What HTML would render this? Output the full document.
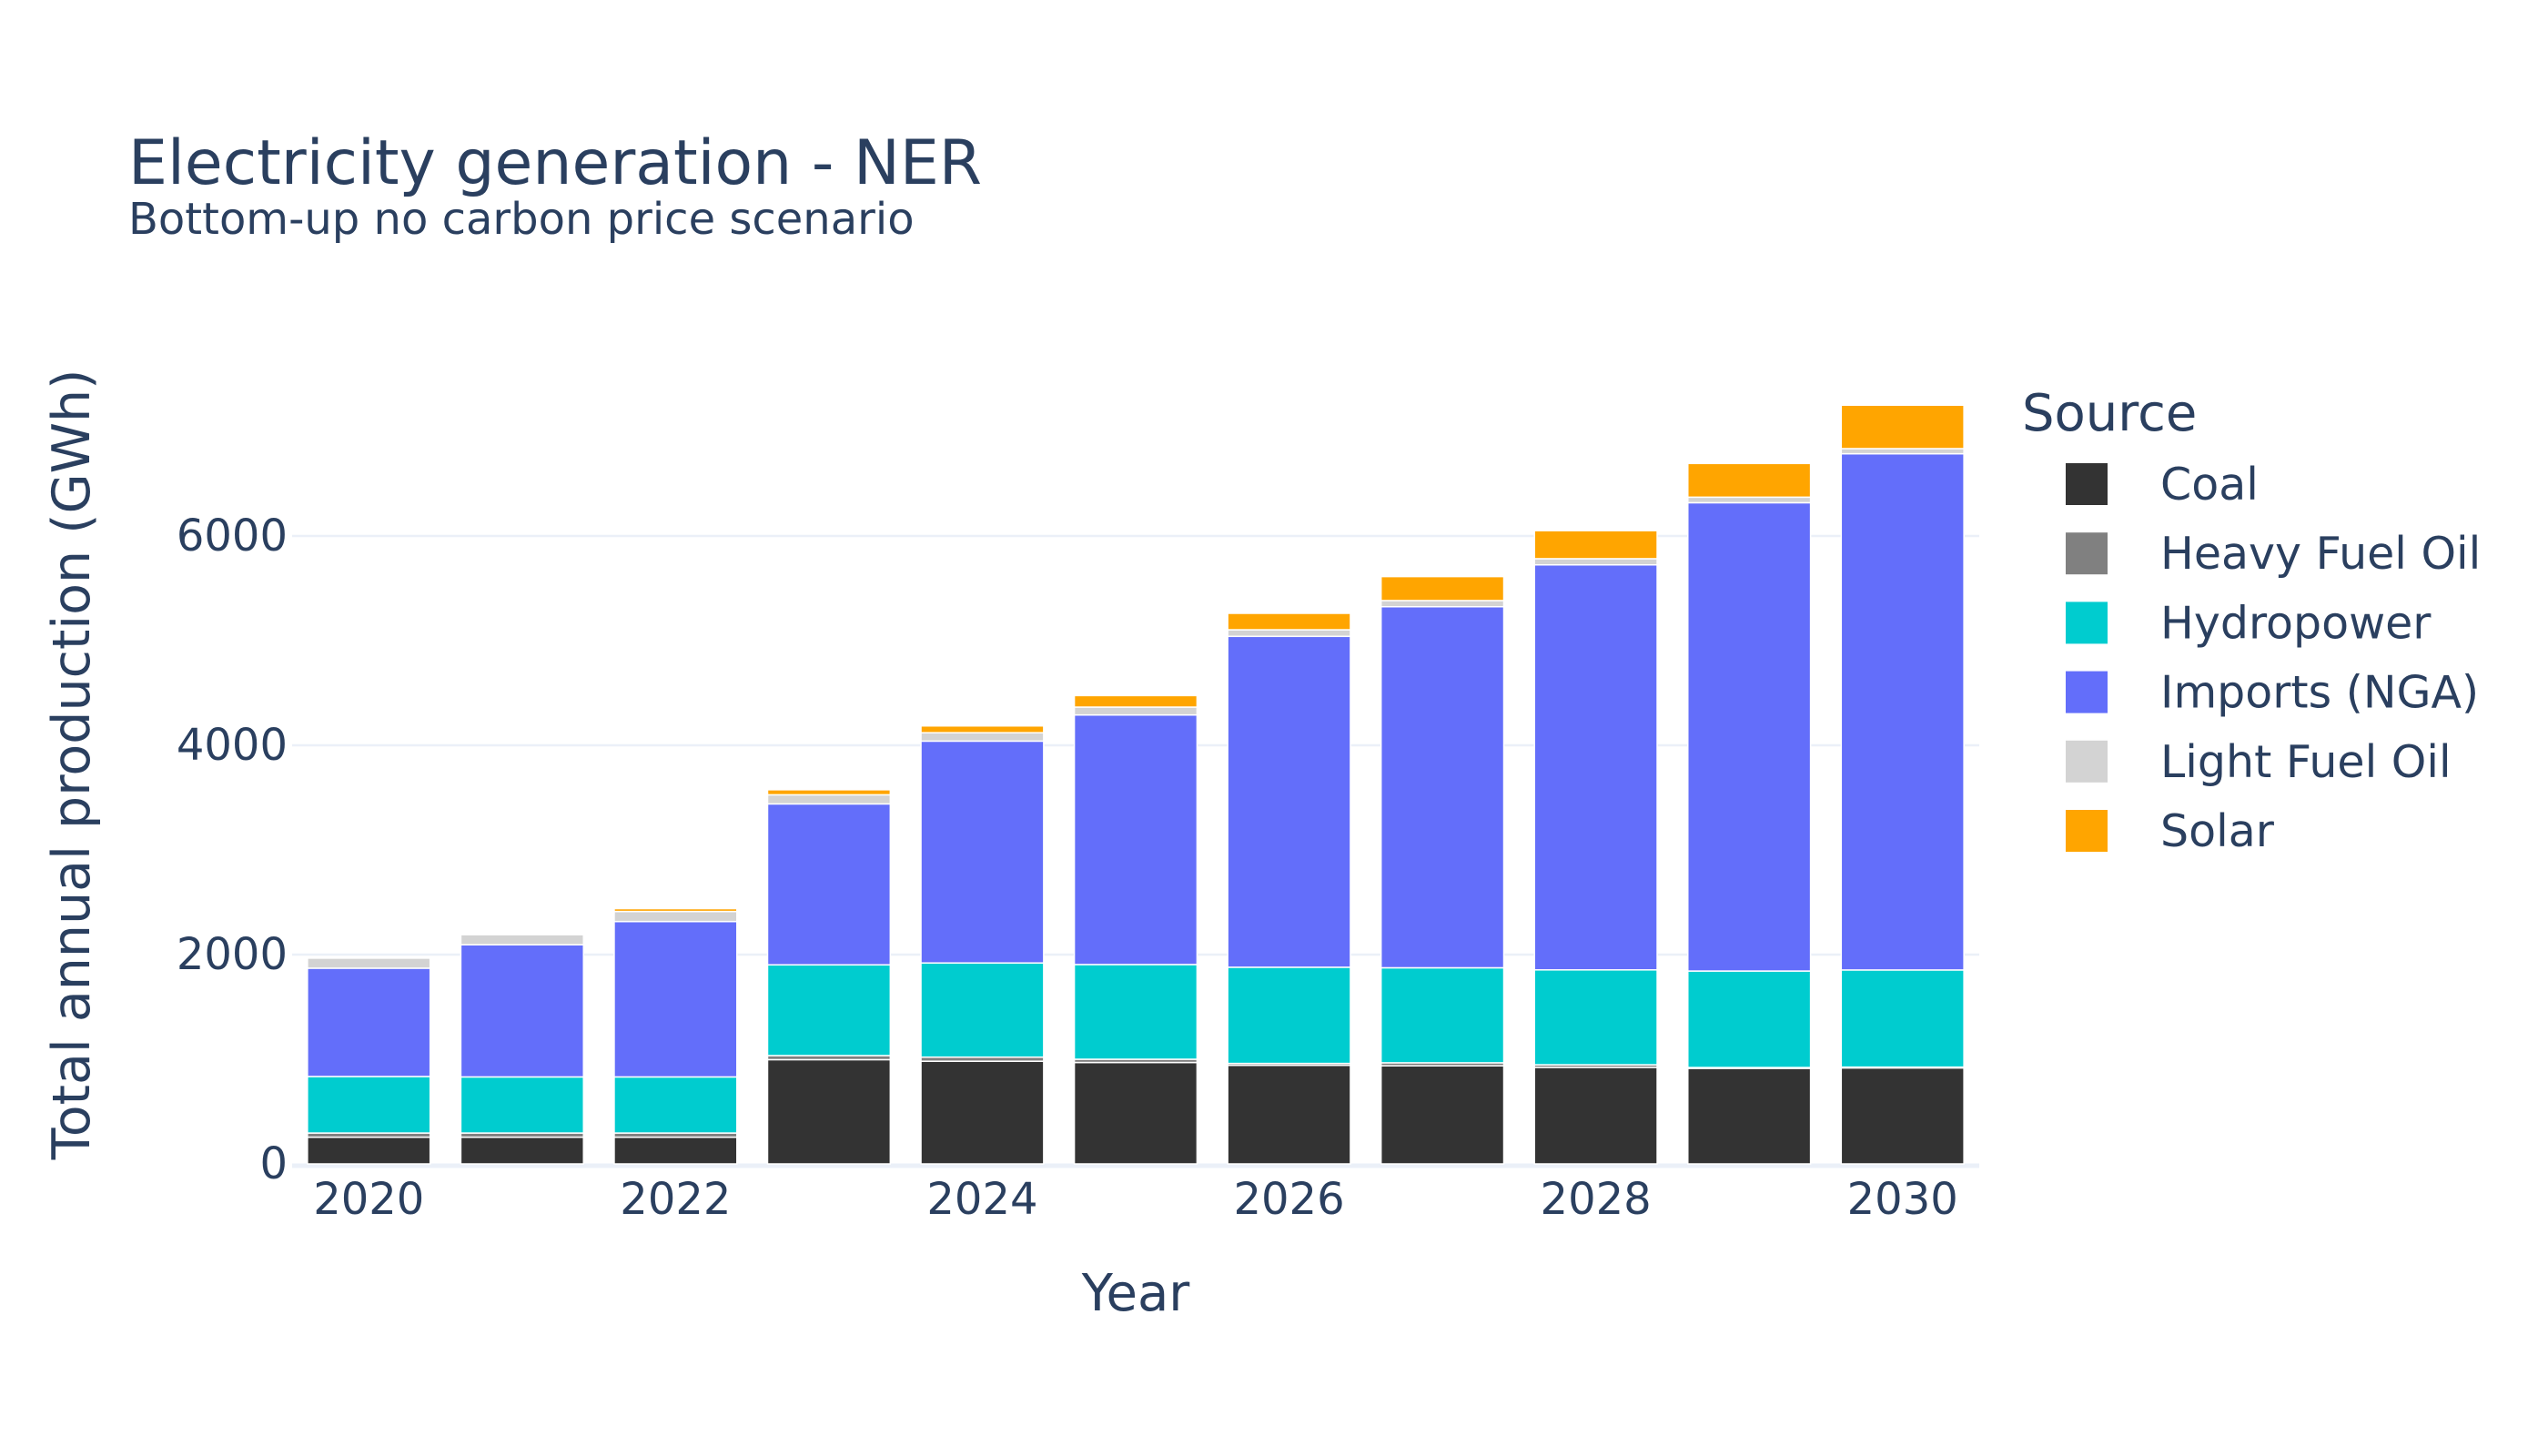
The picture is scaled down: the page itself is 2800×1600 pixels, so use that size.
<!DOCTYPE html>
<html><head><meta charset="utf-8"><style>
html,body{margin:0;padding:0;background:#fff;}
svg{display:block;font-family:"DejaVu Sans","Liberation Sans",sans-serif;}
</style></head><body>
<svg id="chart" width="2800" height="1600" viewBox="0 0 2800 1600" xmlns="http://www.w3.org/2000/svg">
<rect width="2800" height="1600" fill="#fff"/>
<text x="141" y="202" font-size="68" fill="#2a3f5f">Electricity generation - NER</text>
<text x="141" y="257" font-size="48" fill="#2a3f5f">Bottom-up no carbon price scenario</text>
<g id="grid"></g>
<g id="bars"></g>
<g id="axes"></g>
<text x="1248" y="1440" font-size="56" fill="#2a3f5f" text-anchor="middle">Year</text>
<text transform="translate(98,840) rotate(-90)" font-size="57" fill="#2a3f5f" text-anchor="middle">Total annual production (GWh)</text>
<g id="legend"></g>
</svg>
<script>
const years = [2020,2021,2022,2023,2024,2025,2026,2027,2028,2029,2030];
const seriesNames = ["Coal","Heavy Fuel Oil","Hydropower","Imports (NGA)","Light Fuel Oil","Solar"];
const seriesColors = ["#333333","#808080","#00cccf","#636efa","#d3d3d3","#ffa500"];
const coal = [255,255,255,996,981,969,942,937,922,913,917];
const heavyFuelOil = [40,40,40,39,39,31,18,29,25,8,8];
const hydropower = [540,536,536,867,900,905,919,908,907,922,928];
const imports = [1035,1263,1485,1538,2120,2385,3162,3450,3870,4475,4933];
const lightFuelOil = [96,96,96,87,80,75,63,59,59,53,49];
const solar = [0,0,27,48,65,110,157,229,268,322,415];
const yTicks = [0,2000,4000,6000];
const xTicks = [2020,2022,2024,2026,2028,2030];

const series = [coal,heavyFuelOil,hydropower,imports,lightFuelOil,solar];
const NS="http://www.w3.org/2000/svg";
const plotL=321, plotR=2175, plotT=400, y0=1279, pxPer=0.115;
const step=(plotR-plotL)/(years.length);
function xScale(yr){return plotL+step*(yr-years[0]+0.5);}
function yScale(v){return y0-v*pxPer;}
function mk(tag,attrs,parent){const e=document.createElementNS(NS,tag);for(const k in attrs)e.setAttribute(k,attrs[k]);parent.appendChild(e);return e;}
const grid=document.getElementById('grid'),bars=document.getElementById('bars'),axes=document.getElementById('axes'),legend=document.getElementById('legend');
yTicks.forEach(t=>{
  if(t!==0){const l=mk('line',{x1:plotL,x2:plotR,y1:yScale(t),y2:yScale(t),stroke:'#ebf0f8','stroke-width':2.5},grid);
  
  }
  const tx=mk('text',{x:316,y:yScale(t)+16,'font-size':48,fill:'#2a3f5f','text-anchor':'end'},axes);
  tx.textContent=t;
  
  
});
const zl=mk('line',{x1:plotL,x2:plotR,y1:y0+2,y2:y0+2,stroke:'#ebf0f8','stroke-width':5},grid);


xTicks.forEach(t=>{
  const tx=mk('text',{x:xScale(t),y:1334,'font-size':48,fill:'#2a3f5f','text-anchor':'middle'},axes);
  tx.textContent=t;
  
  
});
const bw=step*0.8;
years.forEach((yr,i)=>{
  let base=0;
  series.forEach((s,j)=>{
    const v=s[i];
    if(v>0){
      const r=mk('rect',{x:xScale(yr)-bw/2,y:yScale(base+v),width:bw,height:v*pxPer,fill:seriesColors[j],stroke:'#fff','stroke-width':1.5},bars);
      
      
    }
    base+=v;
  });
});
const lt=mk('text',{x:2222,y:473,'font-size':56,fill:'#2a3f5f'},legend);
lt.textContent='Source';


seriesNames.forEach((n,j)=>{
  const cy=532+j*76.2;
  const g=mk('g',{},legend);
  
  
  mk('rect',{x:2270,y:cy-23,width:46,height:46,fill:seriesColors[j]},g);
  const t=mk('text',{x:2374,y:cy+17,'font-size':49,fill:'#2a3f5f'},g);
  t.textContent=n;
});
</script>
</body></html>
